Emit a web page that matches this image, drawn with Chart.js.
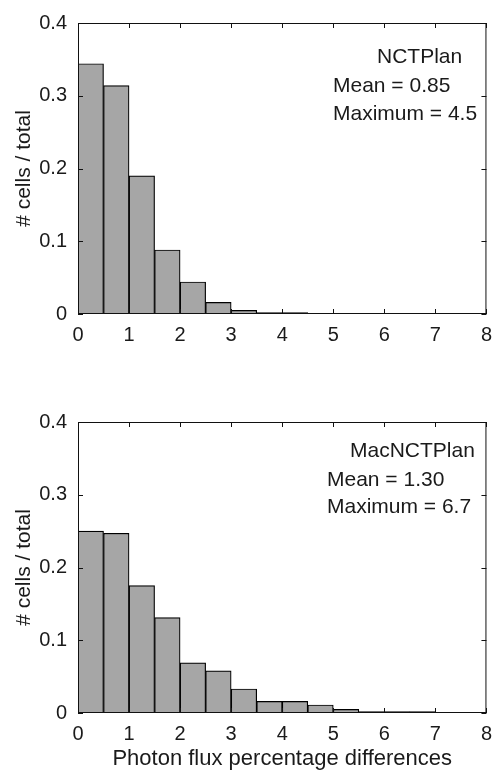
<!DOCTYPE html>
<html>
<head>
<meta charset="utf-8">
<script src="https://cdn.jsdelivr.net/npm/chart.js@4.4.1/dist/chart.umd.min.js"></script>
<style>
  html, body { margin: 0; padding: 0; background: #fff; }
  #wrap { position: relative; width: 501px; height: 778px; }
  canvas { position: absolute; left: 0; }
</style>
</head>
<body>
<div id="wrap">
  <canvas id="topChart" width="501" height="380" style="top:0"></canvas>
  <canvas id="bottomChart" width="501" height="398" style="top:380px"></canvas>
</div>
<script>
// histogram bins (centre of each 0.5-wide bin)
const nctBins = [0.25, 0.75, 1.25, 1.75, 2.25, 2.75, 3.25, 3.75, 4.25];
const nctValues = [0.344, 0.314, 0.190, 0.088, 0.044, 0.016, 0.005, 0.002, 0.002];
const nctNotes = ['NCTPlan', 'Mean = 0.85', 'Maximum = 4.5'];

const macBins = [0.25, 0.75, 1.25, 1.75, 2.25, 2.75, 3.25, 3.75, 4.25, 4.75, 5.25, 5.75, 6.25, 6.75];
const macValues = [0.250, 0.247, 0.175, 0.131, 0.069, 0.058, 0.033, 0.016, 0.016, 0.011, 0.005, 0.002, 0.002, 0.002];
const macNotes = ['MacNCTPlan', 'Mean = 1.30', 'Maximum = 6.7'];

const xTickLabels = ['0', '1', '2', '3', '4', '5', '6', '7', '8'];
const yTickLabels = ['0', '0.1', '0.2', '0.3', '0.4'];

const yTitle = '# cells / total';
const xTitle = 'Photon flux percentage differences';

Chart.defaults.font.family = '"Liberation Sans", Arial, sans-serif';
Chart.defaults.font.size = 20;
Chart.defaults.color = '#1a1a1a';

// box around the plot + inward ticks on all four sides, and the text notes
const framePlugin = {
  id: 'frame',
  afterDatasetsDraw(chart, args, opts) {
    const { ctx, chartArea: a, scales: { x, y } } = chart;
    ctx.save();
    ctx.strokeStyle = '#111';
    ctx.lineWidth = 1;
    ctx.strokeRect(a.left + 0.5, a.top + 0.5, a.right - a.left - 1, a.bottom - a.top - 1);
    const len = 5;
    ctx.beginPath();
    x.ticks.forEach(t => {
      const px = Math.round(x.getPixelForValue(t.value)) + 0.5;
      ctx.moveTo(px, a.bottom); ctx.lineTo(px, a.bottom - len);
      ctx.moveTo(px, a.top); ctx.lineTo(px, a.top + len);
    });
    y.ticks.forEach(t => {
      const py = Math.round(y.getPixelForValue(t.value)) + 0.5;
      ctx.moveTo(a.left, py); ctx.lineTo(a.left + len, py);
      ctx.moveTo(a.right, py); ctx.lineTo(a.right - len, py);
    });
    ctx.stroke();

    ctx.fillStyle = '#1a1a1a';
    ctx.font = '21px "Liberation Sans", Arial, sans-serif';
    ctx.textBaseline = 'alphabetic';
    ctx.textAlign = 'left';
    opts.lines.forEach((txt, i) => {
      const p = opts.pos[i];
      ctx.fillText(txt, p[0], a.top + p[1]);
    });
    ctx.restore();
  }
};

function makeChart(id, bins, values, notes, notePos, showXTitle, xAxisHeight) {
  return new Chart(document.getElementById(id), {
    type: 'bar',
    data: {
      datasets: [{
        data: bins.map((b, i) => ({ x: b, y: values[i] })),
        backgroundColor: '#a6a6a6',
        borderColor: '#000',
        borderWidth: 1.2,
        barPercentage: 1,
        categoryPercentage: 1
      }]
    },
    options: {
      responsive: false,
      animation: false,
      layout: { padding: { left: 0, right: 6, top: showXTitle ? 42 : 20, bottom: 0 } },
      scales: {
        x: {
          type: 'linear',
          offset: false,
          min: 0,
          max: 8,
          grid: { display: false, drawTicks: false, offset: false },
          border: { display: false },
          ticks: {
            stepSize: 1,
            padding: 9,
            maxRotation: 0,
            autoSkip: false,
            callback: (v) => xTickLabels[v]
          },
          title: {
            display: showXTitle,
            text: xTitle,
            padding: { top: 0, bottom: 6 },
            font: { size: 22, lineHeight: 1.2 }
          },
          afterFit: (s) => { s.height = xAxisHeight; }
        },
        y: {
          min: 0,
          max: 0.4,
          grid: { display: false, drawTicks: false },
          border: { display: false },
          ticks: {
            stepSize: 0.1,
            padding: 11,
            callback: (v) => yTickLabels[Math.round(v * 10)]
          },
          title: {
            display: true,
            text: yTitle,
            padding: { top: 12, bottom: 0 },
            font: { size: 21, lineHeight: 1.2 }
          },
          afterFit: (s) => { s.width = 78; }
        }
      },
      plugins: {
        legend: { display: false },
        tooltip: { enabled: false },
        frame: { lines: notes, pos: notePos }
      }
    },
    plugins: [framePlugin]
  });
}

makeChart('topChart', nctBins, nctValues, nctNotes,
  [[377, 40], [333, 69], [333, 97]], false, 66);
makeChart('bottomChart', macBins, macValues, macNotes,
  [[350, 35], [327, 64], [327, 91]], true, 65);
</script>
</body>
</html>
